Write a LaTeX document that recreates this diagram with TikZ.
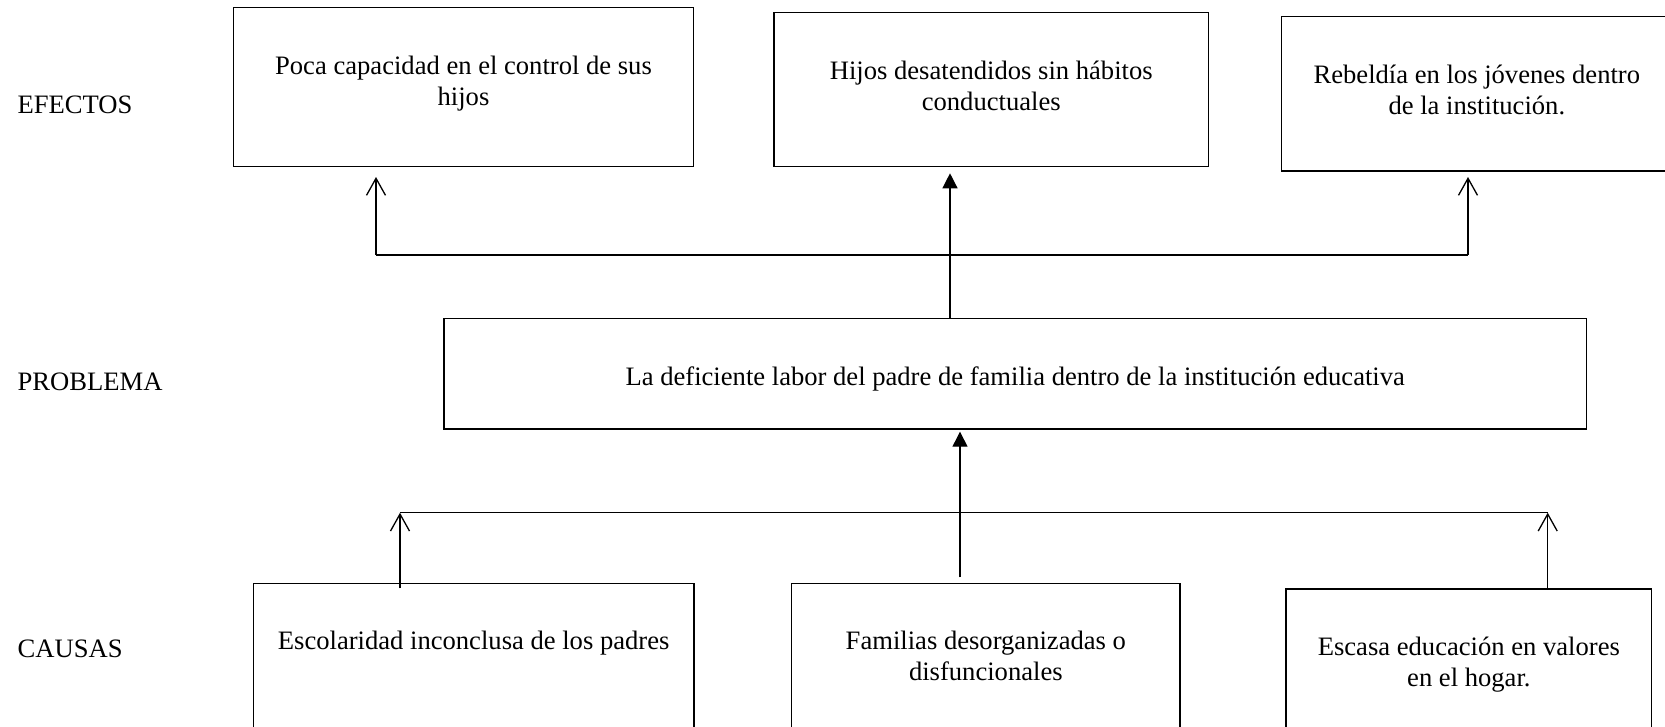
\documentclass[tikz,border=0pt]{standalone}
\usepackage{fontspec}
\setmainfont{Liberation Serif}
\usetikzlibrary{arrows.meta}
\usetikzlibrary{positioning}

\begin{document}
\begin{tikzpicture}[x=1pt,y=-1pt,line width=1.3pt,
  caja/.style={draw,rectangle,anchor=north west,inner sep=0pt,outer sep=0pt},
  texto/.style={align=center,inner sep=0pt,font=\fontsize{26.6}{31}\selectfont},
  etiqueta/.style={anchor=base west,inner sep=0pt,font=\fontsize{26.6}{31}\selectfont},
  abierta/.style={-{Straight Barb[length=17pt,width=19pt]}},
  llena/.style={-{Triangle[length=15pt,width=15pt]}}]
\useasboundingbox (0,0) rectangle (1665,726);

% rotulos de la izquierda
\node[etiqueta] (lefe) at (17,113.3) {EFECTOS};
\node[etiqueta] (lpro) at (17,390) {PROBLEMA};
\node[etiqueta] (lcau) at (17,657.3) {CAUSAS};

% efectos
\node[caja,minimum width=459.8pt,minimum height=159.3pt] (e1) at (233.6,7.4) {};
\node[caja,minimum width=434.3pt,minimum height=154pt] (e2) at (774.1,12.7) {};
\node[caja,minimum width=390.3pt,minimum height=154.3pt] (e3) at (1281.7,16.7) {};
\node[texto,below=47.5pt of e1.north] (te1) {Poca capacidad en el control de sus\\hijos};
\node[texto,below=48pt of e2.north] (te2) {Hijos desatendidos sin hábitos\\conductuales};
\node[texto,below=48pt of e3.north] (te3) {Rebeldía en los jóvenes dentro\\de la institución.};

% problema
\node[caja,minimum width=1142.6pt,minimum height=110.4pt] (p) at (443.9,318.6) {};
\node[texto,below=48pt of p.north] (tp) {La deficiente labor del padre de familia dentro de la institución educativa};

% causas
\node[caja,minimum width=440.7pt,minimum height=200pt] (c1) at (253.3,583.3) {};
\node[caja,minimum width=388.3pt,minimum height=200pt] (c2) at (791.7,583.3) {};
\node[caja,minimum width=365.7pt,minimum height=200pt] (c3) at (1286,589) {};
\node[texto,below=47pt of c1.north] (tc1) {Escolaridad inconclusa de los padres};
\node[texto,below=47pt of c2.north] (tc2) {Familias desorganizadas o\\disfuncionales};
\node[texto,below=47pt of c3.north] (tc3) {Escasa educación en valores\\en el hogar.};

% flechas hacia los efectos
\coordinate (ef1) at (376,255);
\coordinate (ef3) at (1468,255);
\coordinate (pe) at (950,0);
\draw (ef1) -- (ef3);
\draw[abierta] (ef1) -- +(0,-78);
\draw[abierta] (ef3) -- +(0,-78);
\draw[llena,shorten >=6.6pt] (pe |- p.north) -- (pe |- e2.south);

% flechas desde las causas
\coordinate (ca1) at (400,512.7);
\coordinate (ca3) at (1547.7,512.7);
\coordinate (pc) at (960,0);
\draw (ca1) -- (ca3);
\draw[abierta] ([yshift=-5pt]ca1 |- c1.north) -- (ca1);
\draw[abierta] (ca3 |- c3.north) -- (ca3);
\draw[llena,shorten >=2.7pt] ([yshift=6pt]pc |- c2.north) -- (pc |- p.south);
\end{tikzpicture}
\end{document}
